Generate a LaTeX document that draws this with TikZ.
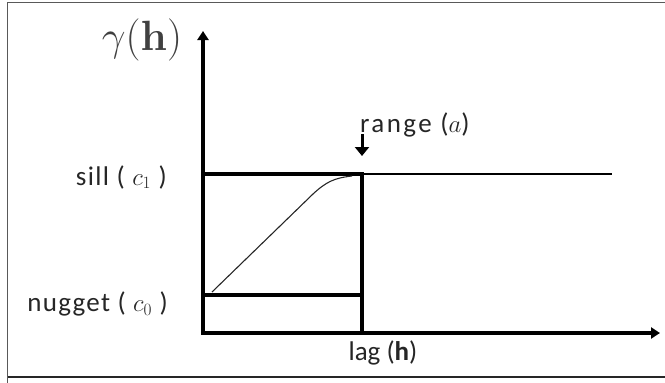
\documentclass[tikz,border=0pt]{standalone}
\usepackage[no-math]{fontspec}
\setmainfont{Carlito}[LetterSpace=5]
\usetikzlibrary{arrows.meta}
\begin{document}
\begin{tikzpicture}[x=1pt,y=-1pt,
  lbl/.style={inner sep=0pt, text=black!85, font=\fontsize{27}{29}\selectfont},
  heavy/.style={line width=3.8pt},
  light/.style={line width=1.4pt},
  axisarrow/.style={line width=3.8pt,-{Triangle[length=9pt,width=11pt]}},
  frame/.style={line width=1.2pt, draw=black!65}]
\useasboundingbox (0,0) rectangle (665,383);
% frame
\draw[frame] (7.5,383) -- (7.5,2.5) -- (665,2.5);
\draw[frame, draw=black!85] (7.5,377) -- (665,377);
% key points
\coordinate (O) at (203,333);
\coordinate (ytop) at (203,31);
\coordinate (xend) at (660,333);
\coordinate (sillL) at (203,174);
\coordinate (sillR) at (362,174);
\coordinate (sillEnd) at (612,174);
\coordinate (nugL) at (203,295);
\coordinate (nugR) at (362,295);
\coordinate (rngB) at (362,333);
\coordinate (rngTop) at (362,134);
\coordinate (rngTip) at (362,156);
% axes
\draw[axisarrow] (O) -- (ytop);
\draw[axisarrow] ([xshift=-1.9pt]O) -- (xend);
% sill, nugget, range
\draw[heavy] (sillL) -- ([xshift=1.9pt]sillR);
\draw[light] (sillR) -- (sillEnd);
\draw[heavy] (nugL) -- (nugR);
\draw[heavy] (rngB) -- ([yshift=-1.9pt]sillR);
\draw[line width=3pt,-{Triangle[length=9pt,width=14pt]}] (rngTop) -- (rngTip);
% model curve
\draw[line width=1.1pt, black!85] (212,292) -- (313,194) .. controls (326,182) and (334,178) .. (352,176);
% labels
\node[inner sep=0pt, text=black!75, font=\fontsize{24}{26}\selectfont, scale=1.7] (gam) at (142,40) {$\gamma(\mathbf{h})$};
\node[lbl, anchor=east] (sill) at (167,177) {sill ( $c_{1}$ )};
\node[lbl, anchor=east] (nug) at (168,304) {nugget ( $c_{0}$ )};
\node[lbl, anchor=west] (rng) at (360,125) {\addfontfeatures{LetterSpace=9}range ($a$)};
\node[lbl] (lag) at (383,353) {\addfontfeatures{LetterSpace=0}lag (\textbf{h})};
\end{tikzpicture}
\end{document}
